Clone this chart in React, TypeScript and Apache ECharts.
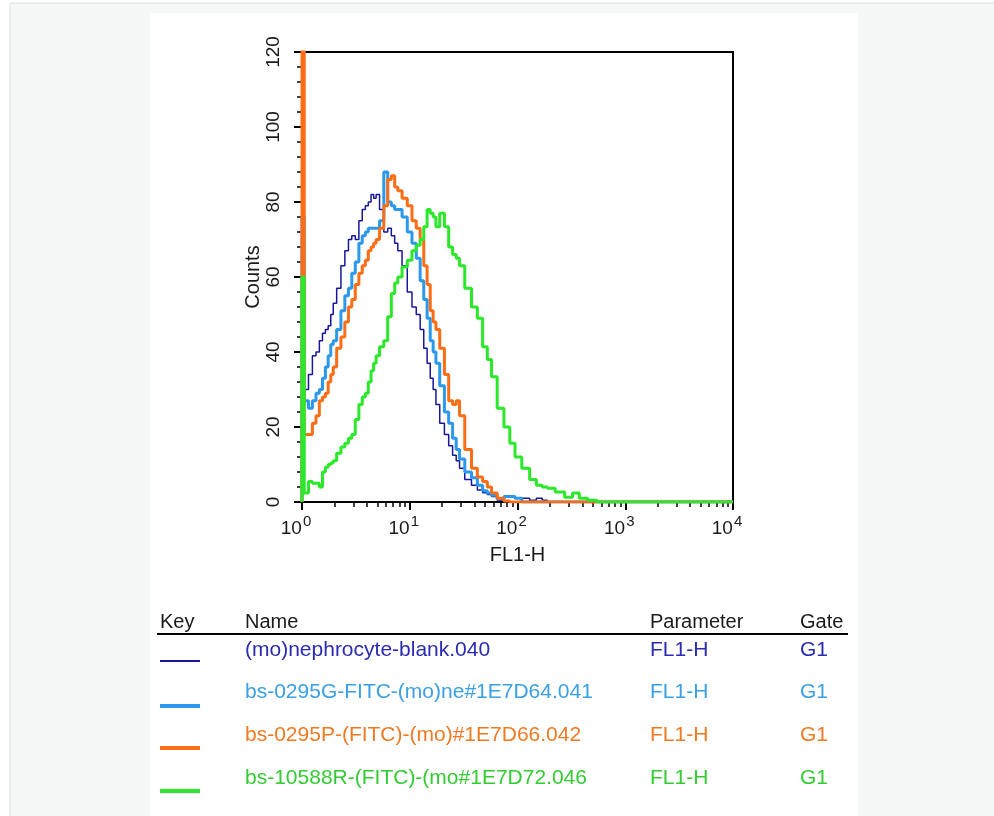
import React, { useEffect, useRef } from "react";
import * as echarts from "echarts";

// FL1-H channel positions (shared by all histograms); first entry is the baseline start
const FL1H = [1, 1, 1.1, 1.2, 1.3, 1.4, 1.5, 1.6, 1.7, 1.8, 1.9, 2, 2.2, 2.4, 2.6, 2.8, 3, 3.25, 3.5, 3.75, 4, 4.25, 4.5, 4.75, 5, 5.5, 6, 6.5, 7, 7.5, 8, 9, 10, 11, 12, 13, 14, 15, 16, 17, 18, 20, 22, 24, 26, 28, 30, 35, 40, 45, 50, 55, 60, 70, 80, 90, 100, 120, 140, 160, 180, 200, 250, 300, 350, 400, 500, 600, 700, 1000, 2000, 4000, 10000];

const blankCounts = [0, 30, 30, 34, 39, 40, 43, 45, 46, 47, 50, 53, 57, 63, 67, 70, 71, 70, 75, 78, 79, 80, 82, 81, 82, 78, 72, 73, 71, 69, 67, 63, 56, 52, 50, 46, 41, 37, 33, 30, 26, 21, 18, 15, 12.5, 11, 9, 6, 4.5, 3.2, 2.5, 2, 1.5, 0.5, 0.3, 0, 0, 1, 0.5, 1, 0.5, 0, 0, 0, 0, 0, 0, 0, 0, 0, 0, 0, 0];

const g0295Counts = [0, 76, 27, 25, 27, 29, 30, 33, 36, 39, 42, 43, 46, 51, 55, 57, 61, 64, 69, 71, 72, 73, 73, 73, 73, 75, 88, 80, 79, 78, 78, 76, 72, 69, 65, 59, 54, 49, 43, 40, 37, 31, 24, 21, 17, 14, 11.5, 8, 6.5, 4.5, 3, 2.4, 1.8, 0.8, 1.5, 1.5, 1, 0, 0, 0, 0, 0, 0, 0, 0, 0, 0, 0, 0, 0, 0, 0, 0];

const p0295Counts = [0, 125, 18, 18, 21, 23, 27, 28, 29, 32, 34, 36, 41, 44, 48, 52, 54, 58, 61, 63, 64.5, 67, 68, 69, 70, 73, 79, 86, 87, 84, 83, 81, 79, 75, 73, 70, 63, 58, 51, 48, 46, 41, 34, 27, 26, 27, 23, 14, 9, 6.7, 5.5, 4, 2.4, 1, 0.3, 0, 0, 0, 0, 0, 0, 0, 0, 0, 0, 0, 0, 0, 0, 0, 0, 0, 0];

const r10588Counts = [0, 60, 2.4, 5.5, 5, 5, 4, 8, 9.3, 10, 10.4, 11, 13, 14.7, 15.7, 17, 18, 22, 26, 28, 29, 32, 35, 37, 39, 41.4, 43, 49.4, 55.6, 58.4, 60, 62.7, 64.5, 67, 68.5, 70, 73.4, 78, 77, 76, 73.4, 77, 73.4, 68, 66, 65, 63, 57, 52, 49, 41.4, 38, 33.4, 25, 20, 15.7, 12, 9, 6, 4.5, 4, 3.7, 2.7, 1.3, 2.4, 1, 0.5, 0, 0, 0, 0, 0, 0];

const sampleNames = [
  "(mo)nephrocyte-blank.040",
  "bs-0295G-FITC-(mo)ne#1E7D64.041",
  "bs-0295P-(FITC)-(mo)#1E7D66.042",
  "bs-10588R-(FITC)-(mo#1E7D72.046",
];
const sampleCounts = [blankCounts, g0295Counts, p0295Counts, r10588Counts];
const parameters = ["FL1-H", "FL1-H", "FL1-H", "FL1-H"];
const gates = ["G1", "G1", "G1", "G1"];
const headers = ["Key", "Name", "Parameter", "Gate"];

const xTickValues = [1, 10, 100, 1000, 10000];
const xTickExponents = ["0", "1", "2", "3", "4"];

const lineColors = ["#17179a", "#2b98ec", "#fb6e16", "#2be82b"];
const textColors = ["#2a2ab4", "#3aa0e6", "#f07a22", "#33cc33"];
const lineWidths = [1.5, 3, 3, 3];
const keyWidths = [2, 4, 4, 4];

const FONT = "'Liberation Sans', Arial, Helvetica, sans-serif";

export default function App() {
  const ref = useRef<HTMLDivElement>(null);

  useEffect(() => {
    if (!ref.current) return;
    const chart = echarts.init(ref.current, undefined, { renderer: "svg" });

    const rowY = [648, 690, 733, 776];
    const keyY = [661, 706, 748, 791];
    const colX = [160, 245, 650, 800];

    const graphic: any[] = [
      { type: "rect", z: -100, shape: { x: 0, y: 0, width: 994, height: 816 }, style: { fill: "#ffffff" } },
      { type: "rect", z: -99, shape: { x: 10, y: 3, width: 990, height: 820 }, style: { fill: "#f6f7f7", stroke: "#dcdfe0", lineWidth: 1 } },
      { type: "rect", z: -98, shape: { x: 150, y: 13, width: 708, height: 803 }, style: { fill: "#ffffff" } },
    ];

    headers.forEach((h, i) => {
      graphic.push({
        type: "text",
        x: colX[i],
        y: 621,
        style: { text: h, fill: "#1a1a1a", font: `20px ${FONT}`, textVerticalAlign: "middle" },
      });
    });
    graphic.push({
      type: "line",
      shape: { x1: 157, y1: 634, x2: 848, y2: 634 },
      style: { stroke: "#000", lineWidth: 2 },
    });
    sampleNames.forEach((name, i) => {
      const cells = [name, parameters[i], gates[i]];
      cells.forEach((c, j) => {
        graphic.push({
          type: "text",
          x: colX[j + 1],
          y: rowY[i],
          style: { text: c, fill: textColors[i], font: `21px ${FONT}`, textVerticalAlign: "middle" },
        });
      });
      graphic.push({
        type: "line",
        shape: { x1: 160, y1: keyY[i], x2: 200, y2: keyY[i] },
        style: { stroke: lineColors[i], lineWidth: keyWidths[i] },
      });
    });

    const series = sampleCounts.map((counts, i) => ({
      name: sampleNames[i],
      type: "line",
      step: "middle",
      showSymbol: false,
      symbol: "none",
      clip: true,
      lineStyle: { color: lineColors[i], width: lineWidths[i] },
      data: FL1H.map((x, k) => [x, counts[k]]),
      z: 2 + i,
    }));

    chart.setOption({
      animation: false,
      graphic,
      grid: {
        left: 302,
        top: 52,
        width: 431,
        height: 450,
        show: true,
        borderColor: "#000",
        borderWidth: 2,
        backgroundColor: "transparent",
      },
      xAxis: {
        type: "log",
        logBase: 10,
        min: 1,
        max: 10000,
        name: "FL1-H",
        nameLocation: "middle",
        nameGap: 42,
        nameTextStyle: { color: "#1a1a1a", fontSize: 20, fontFamily: FONT },
        axisLine: { show: true, lineStyle: { color: "#000", width: 2 } },
        axisTick: { show: true, length: 8, lineStyle: { color: "#000", width: 2 } },
        minorTick: { show: true, splitNumber: 9, length: 5, lineStyle: { color: "#000", width: 1.5 } },
        splitLine: { show: false },
        minorSplitLine: { show: false },
        axisLabel: {
          margin: 11,
          padding: [0, 12, 0, 0],
          formatter: (v: number) => {
            const idx = xTickValues.findIndex((t) => Math.abs(t - v) < 1e-6 * t);
            return idx >= 0 ? `{b|10}{s|${xTickExponents[idx]}}` : "";
          },
          rich: {
            b: { fontSize: 19, fontFamily: FONT, color: "#1a1a1a", verticalAlign: "bottom", lineHeight: 24 },
            s: { fontSize: 15, fontFamily: FONT, color: "#1a1a1a", verticalAlign: "top", lineHeight: 24, padding: [0, 0, 10, 1] },
          },
        },
      },
      yAxis: {
        type: "value",
        min: 0,
        max: 120,
        interval: 20,
        name: "Counts",
        nameLocation: "middle",
        nameGap: 40,
        nameRotate: 90,
        nameTextStyle: { color: "#1a1a1a", fontSize: 20, fontFamily: FONT },
        axisLine: { show: true, lineStyle: { color: "#000", width: 2 } },
        axisTick: { show: true, length: 8, lineStyle: { color: "#000", width: 2 } },
        minorTick: { show: true, splitNumber: 5, length: 5, lineStyle: { color: "#000", width: 1.5 } },
        splitLine: { show: false },
        axisLabel: { rotate: 90, margin: 20, fontSize: 19, fontFamily: FONT, color: "#1a1a1a" },
      },
      series,
    });

    return () => chart.dispose();
  }, []);

  return (
    <div
      ref={ref}
      style={{ position: "fixed", left: 0, top: 0, width: 994, height: 816 }}
    />
  );
}
